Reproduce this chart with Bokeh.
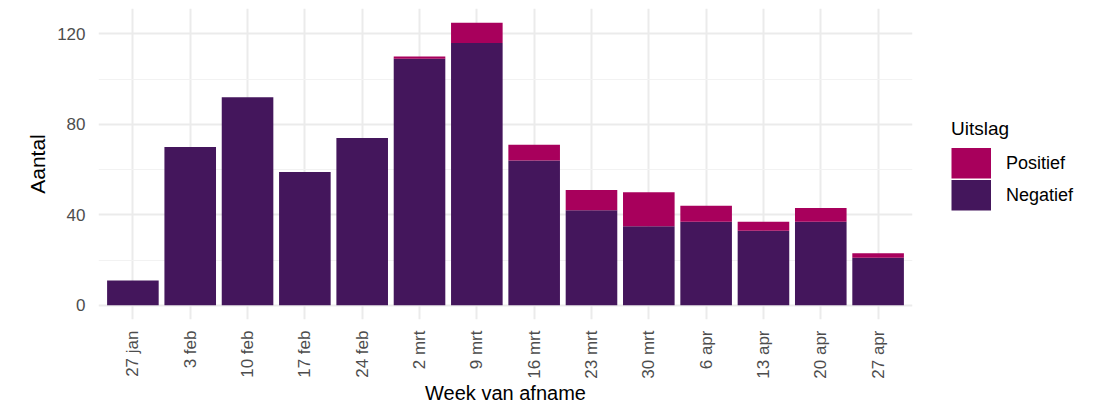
import math
from bokeh.plotting import figure
from bokeh.models import Range1d, FactorRange, FixedTicker, Legend, LegendItem
from bokeh.embed import file_html
from bokeh.resources import INLINE

weeks = ["27 jan", "3 feb", "10 feb", "17 feb", "24 feb", "2 mrt", "9 mrt",
         "16 mrt", "23 mrt", "30 mrt", "6 apr", "13 apr", "20 apr", "27 apr"]
negatief = [11, 70, 92, 59, 74, 109, 116, 64, 42, 35, 37, 33, 37, 21]
positief = [0, 0, 0, 0, 0, 1, 9, 7, 9, 15, 7, 4, 6, 2]
y_ticks = [0, 40, 80, 120]
y_minor = [20, 60, 100]

COL_NEG = "#44165C"
COL_POS = "#A8005C"
FONT = "Liberation Sans"

data = {"week": weeks, "Negatief": negatief, "Positief": positief}

p = figure(
    x_range=FactorRange(factors=weeks, range_padding=0.2 / 14, range_padding_units="percent"),
    y_range=Range1d(-6.25, 131.25),
    frame_width=814, frame_height=311,
    output_backend="svg", toolbar_location=None,
    min_border_left=98, min_border_right=189, min_border_top=8, min_border_bottom=85,
)
p.outline_line_color = None
p.background_fill_color = "white"
p.border_fill_color = "white"

p.vbar_stack(["Negatief", "Positief"], x="week", width=0.9, source=data,
             color=[COL_NEG, COL_POS], line_color=None)

# legend keys: hidden thick butt-capped lines give solid full-size swatches
key_pos = p.line(x="week", y="Positief", source=data, line_width=31,
                 line_color=COL_POS, line_cap="butt", visible=False)
key_neg = p.line(x="week", y="Negatief", source=data, line_width=31,
                 line_color=COL_NEG, line_cap="butt", visible=False)

legend = Legend(items=[LegendItem(label="Positief", renderers=[key_pos]),
                       LegendItem(label="Negatief", renderers=[key_neg])],
                location="center_left")
legend.title = "Uitslag"
legend.title_text_font = FONT
legend.title_text_font_size = "19px"
legend.title_text_font_style = "normal"
legend.title_text_color = "black"
legend.title_standoff = 8
legend.label_text_font = FONT
legend.label_text_font_size = "18px"
legend.label_text_color = "black"
legend.glyph_width = 40
legend.glyph_height = 31
legend.label_standoff = 15
legend.spacing = 1
legend.padding = 10
legend.margin = 39
legend.border_line_color = None
legend.background_fill_alpha = 0
legend.inactive_fill_alpha = 0
legend.click_policy = "none"
p.add_layout(legend, "right")

# axes
p.yaxis.ticker = FixedTicker(ticks=y_ticks, minor_ticks=y_minor)
for ax in (p.xaxis, p.yaxis):
    ax.axis_line_color = None
    ax.major_tick_line_color = None
    ax.minor_tick_line_color = None
    ax.major_label_text_font = FONT
    ax.major_label_text_color = "#4d4d4d"
    ax.axis_label_text_font = FONT
    ax.axis_label_text_font_style = "normal"
    ax.axis_label_text_color = "black"

p.yaxis.major_label_text_font_size = "17px"
p.xaxis.major_label_text_font_size = "17px"
p.yaxis.axis_label_text_font_size = "21px"
p.xaxis.axis_label_text_font_size = "20px"
p.xaxis.axis_label = "Week van afname"
p.yaxis.axis_label = "Aantal"
p.xaxis.major_label_orientation = math.pi / 2
p.xaxis.major_label_standoff = 5
p.xaxis.axis_label_standoff = 0
p.yaxis.major_label_standoff = 7
p.yaxis.axis_label_standoff = 5

# grid
p.xgrid.grid_line_color = "#ebebeb"
p.xgrid.grid_line_width = 2
p.ygrid.grid_line_color = "#ebebeb"
p.ygrid.grid_line_width = 2
p.ygrid.minor_grid_line_color = "#f2f2f2"
p.ygrid.minor_grid_line_width = 1

with open("out.html", "w") as f:
    f.write(file_html(p, INLINE))
